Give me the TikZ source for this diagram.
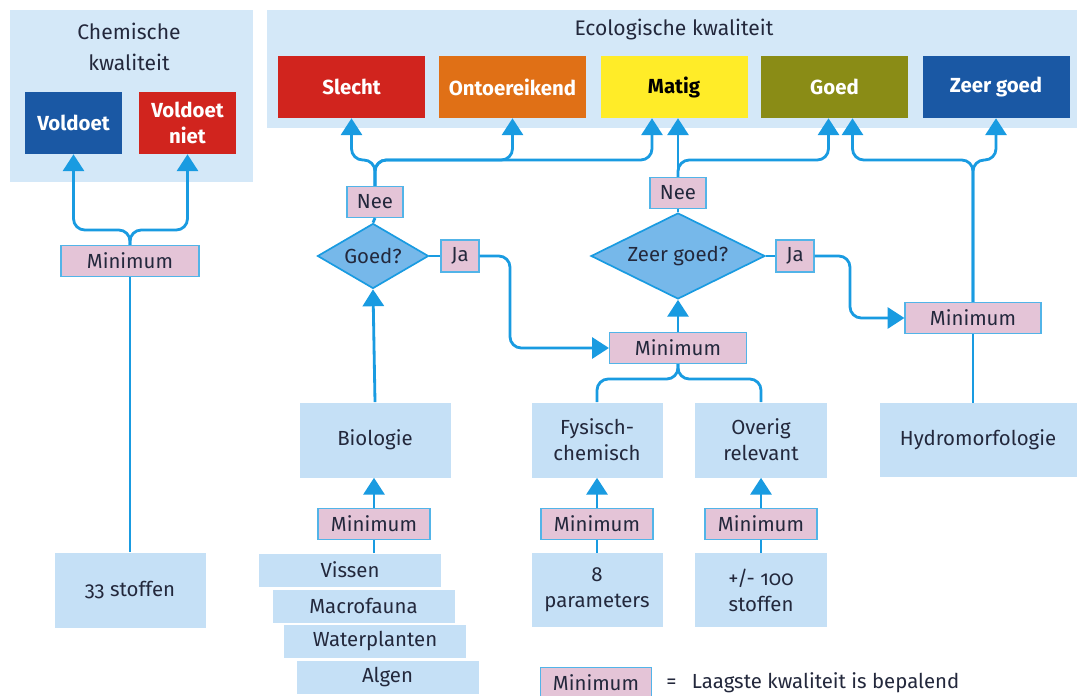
\documentclass[tikz,border=0pt]{standalone}
\usepackage{fontspec}
\setmainfont[Numbers=OldStyle]{Fira Sans}
\usetikzlibrary{positioning, shapes.geometric, arrows.meta}
\definecolor{RWSBlue}{RGB}{25,155,225}
\definecolor{RWSPanel}{RGB}{212,232,248}
\definecolor{RWSBox}{RGB}{197,224,246}
\definecolor{RWSPink}{RGB}{228,196,215}
\definecolor{RWSDiamond}{RGB}{118,184,234}
\definecolor{RWSText}{RGB}{35,40,60}
\definecolor{GradeRed}{RGB}{209,36,30}
\definecolor{GradeOrange}{RGB}{224,112,22}
\definecolor{GradeYellow}{RGB}{255,236,40}
\definecolor{GradeOlive}{RGB}{138,140,22}
\definecolor{GradeBlue}{RGB}{26,88,164}
\newlength{\pxl}\setlength{\pxl}{0.025cm}

\begin{document}
\begin{tikzpicture}[x=0.025cm, y=-0.025cm,
  every node/.style={font=\fontsize{14.5}{18.5}\selectfont, text=RWSText, inner sep=0pt, align=center},
  panel/.style={rectangle, fill=RWSPanel},
  box/.style={rectangle, fill=RWSBox, minimum width=151\pxl, minimum height=75\pxl},
  stack/.style={rectangle, fill=RWSBox, minimum width=182\pxl, minimum height=33\pxl},
  grade/.style={rectangle, fill=#1, minimum width=147\pxl, minimum height=62\pxl, font=\fontsize{14.5}{18.5}\selectfont\bfseries, text=white},
  minbox/.style={rectangle, draw=RWSBlue!75, line width=0.8pt, fill=RWSPink, minimum width=112\pxl, minimum height=31\pxl},
  qbox/.style={diamond, shape aspect=2, draw=RWSBlue, line width=1.2pt, fill=RWSDiamond},
  line/.style={RWSBlue, line width=2pt, rounded corners=8pt},
  arrow/.style={line, -{Triangle[width=15pt, length=12pt]}}
]
\useasboundingbox[fill=white] (0,0) rectangle (1080,696);

\node[panel, minimum width=243\pxl, minimum height=172\pxl] (chempanel) at (131.5,96) {};
\node[panel, minimum width=810\pxl, minimum height=118\pxl] (ecopanel) at (672,69) {};
\node[font=\fontsize{15}{22}\selectfont] (chemtitle) at (129,47) {Chemische\\kwaliteit};
\node[font=\fontsize{15}{22}\selectfont] (ecotitle) at (674,30) {Ecologische kwaliteit};

\node[grade=GradeBlue, minimum width=97\pxl] (voldoet) at (73.5,123) {Voldoet};
\node[grade=GradeRed, minimum width=97\pxl] (voldoetniet) at (187.5,123) {Voldoet\\niet};
\node[grade=GradeRed] (slecht) at (351.5,87) {Slecht};
\node[grade=GradeOrange] (ontoer) at (512.5,87) {Ontoereikend};
\node[grade=GradeYellow, text=black] (matig) at (674,87) {Matig};
\node[grade=GradeOlive] (goed) at (834.5,87) {Goed};
\node[grade=GradeBlue] (zeergoed) at (996,87) {Zeer goed};

\node[minbox, minimum width=138\pxl] (leftmin) at (130,261) {Minimum};
\node[box] (stoffen33) at (130,590) {33 stoffen};

\node[minbox, minimum width=56\pxl] (nee1) at (375,202) {Nee};
\node[qbox, minimum width=111\pxl, minimum height=65\pxl] (goedq) at (373,256) {Goed?};
\node[minbox, minimum width=38\pxl, minimum height=32\pxl] (ja1) at (460,256) {Ja};
\node[minbox, minimum width=56\pxl] (nee2) at (678,193) {Nee};
\node[qbox, minimum width=174\pxl, minimum height=86\pxl] (zgq) at (678,256) {Zeer goed?};
\node[minbox, minimum width=38\pxl, minimum height=32\pxl] (ja2) at (795,256) {Ja};
\node[minbox, minimum width=137\pxl] (midmin) at (678,348) {Minimum};
\node[minbox, minimum width=136\pxl] (rmin) at (973,318) {Minimum};

\node[box] (bio) at (375,440) {Biologie};
\node[box, minimum width=131\pxl] (fys) at (597,440) {Fysisch-\\chemisch};
\node[box, minimum width=132\pxl] (overig) at (761,440) {Overig\\relevant};
\node[box, minimum width=197\pxl, minimum height=74\pxl] (hydro) at (978,440) {Hydromorfologie};

\node[minbox] (biomin) at (374,524) {Minimum};
\node[minbox] (fysmin) at (597,524) {Minimum};
\node[minbox] (overigmin) at (761,524) {Minimum};

\node[stack] (vissen) at (350,570) {Vissen};
\node[stack] (macro) at (363.5,606) {Macrofauna};
\node[stack] (water) at (375,641) {Waterplanten};
\node[stack] (algen) at (387.5,677) {Algen};
\node[box, minimum width=131\pxl, minimum height=74\pxl] (params) at (597,590) {8\\parameters};
\node[box, minimum width=132\pxl, minimum height=74\pxl] (stoffen100) at (761,590) {+/- 100\\stoffen};

\node[minbox, minimum width=111\pxl] (legmin) at (596,683) {Minimum};
\node[anchor=west] (legtext) at (666,683) {=\hspace{11pt}Laagste kwaliteit is bepalend};

\draw[line] (stoffen33.north) -- (leftmin.south);
\draw[arrow] (leftmin.north) -- (130,230) -| (voldoet.south);
\draw[arrow] (leftmin.north) -- (130,230) -| (voldoetniet.south);

\draw[arrow] (bio.north) -- (goedq.south);
\draw[line] (goedq.north) -- (nee1.south);
\draw[arrow] (nee1.north) -- (375,160) -| (slecht.south);
\draw[arrow] (nee1.north) -- (375,160) -| (ontoer.south);
\draw[arrow] (nee1.north) -- (375,160) -| ([xshift=-22\pxl]matig.south);
\draw[line] (goedq.east) -- (ja1.west);
\draw[arrow] (ja1.east) -| (510,300) |- (midmin.west);

\draw[arrow] (midmin.north) -- (zgq.south);
\draw[line] (zgq.north) -- (nee2.south);
\draw[arrow] (nee2.north) -- (nee2.north |- matig.south);
\draw[arrow] (nee2.north) -- (678,160) -| ([xshift=-6\pxl]goed.south);
\draw[line] (zgq.east) -- (ja2.west);
\draw[arrow] (ja2.east) -| (850,290) |- (rmin.west);

\draw[line] (hydro.north -| rmin.south) -- (rmin.south);
\draw[arrow] (rmin.north) -- (973,160) -| ([xshift=18\pxl]goed.south);
\draw[arrow] (rmin.north) -- (973,160) -| (zeergoed.south);

\draw[line] (midmin.south) -- (678,379) -| (fys.north);
\draw[line] (midmin.south) -- (678,379) -| (overig.north);

\draw[line] (vissen.north -| biomin.south) -- (biomin.south);
\draw[arrow] (biomin.north) -- (biomin.north |- bio.south);
\draw[line] (params.north) -- (fysmin.south);
\draw[arrow] (fysmin.north) -- (fys.south);
\draw[line] (stoffen100.north) -- (overigmin.south);
\draw[arrow] (overigmin.north) -- (overig.south);
\end{tikzpicture}
\end{document}
